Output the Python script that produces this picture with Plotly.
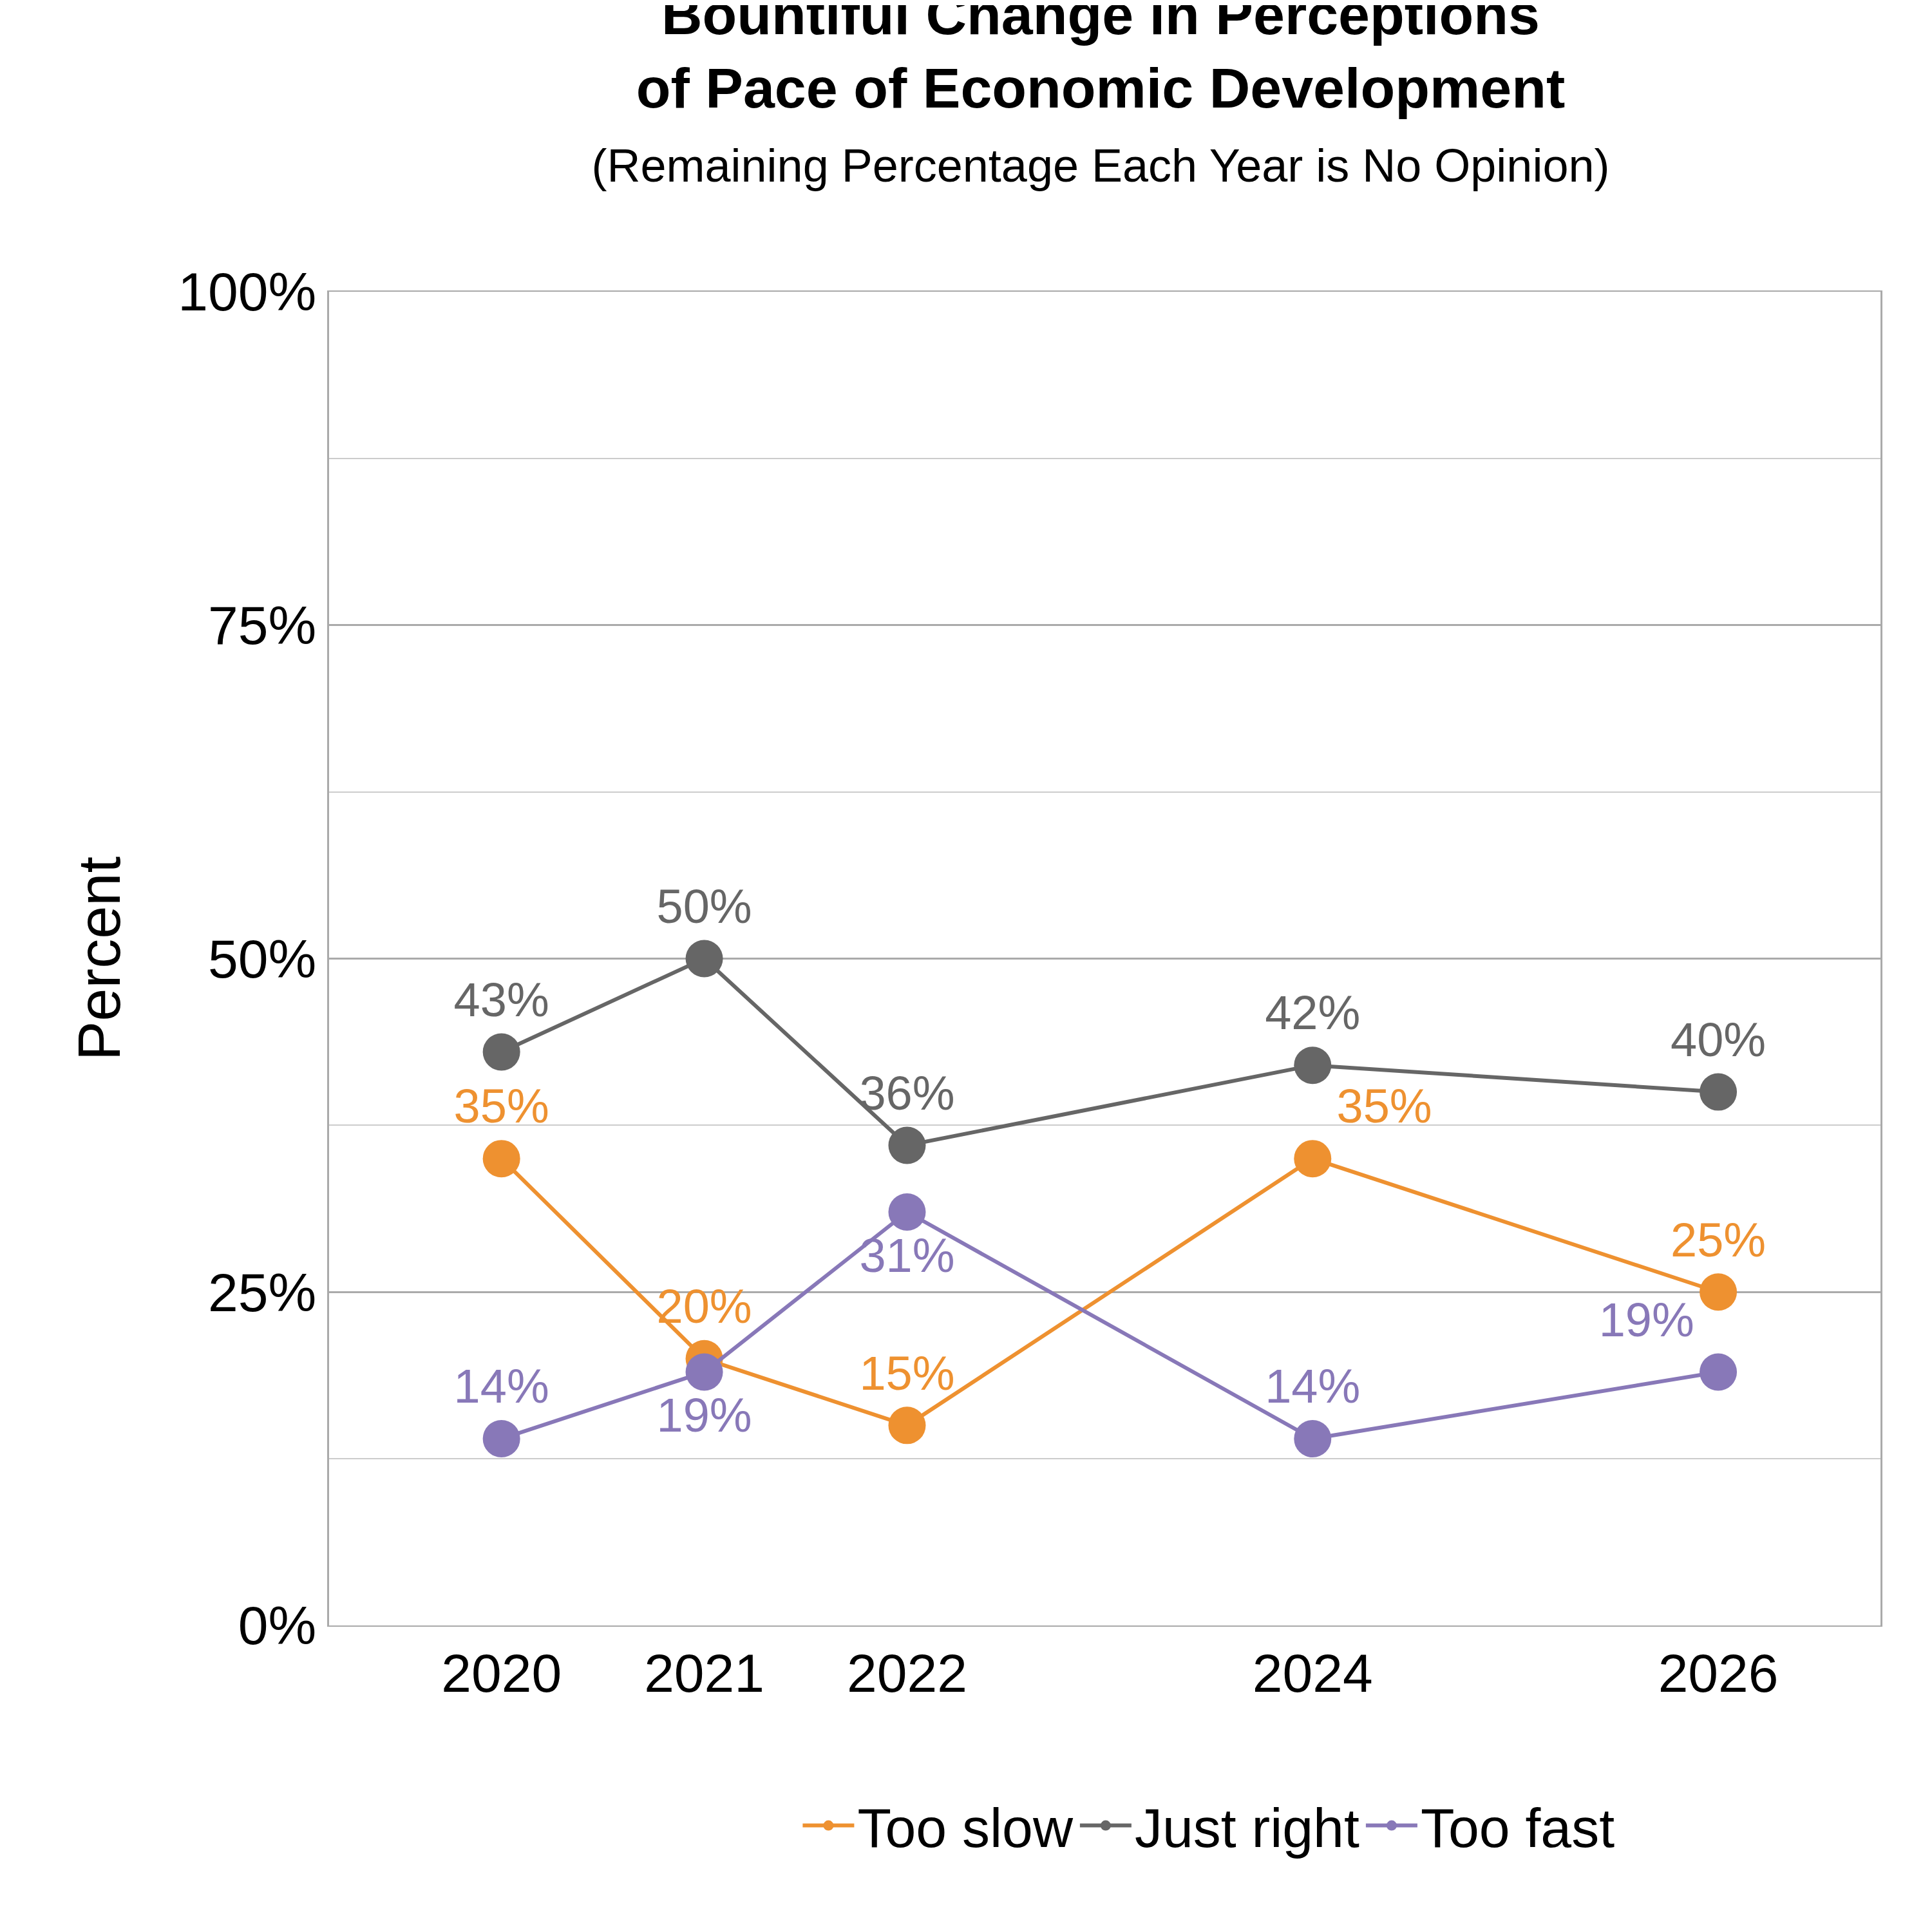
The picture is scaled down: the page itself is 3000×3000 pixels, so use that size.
import plotly.graph_objects as go

years = [2020, 2021, 2022, 2024, 2026]
too_slow = [35, 20, 15, 35, 25]
just_right = [43, 50, 36, 42, 40]
too_fast = [14, 19, 31, 14, 19]

series = [
    ("Too slow", too_slow, "#EE9130", ["top center", "top center", "top center", "top right", "top center"]),
    ("Just right", just_right, "#666666", ["top center"] * 5),
    ("Too fast", too_fast, "#8878B8", ["top center", "bottom center", "bottom center", "top center", "top left"]),
]

fig = go.Figure()
for name, vals, color, pos in series:
    fig.add_trace(go.Scatter(
        x=years, y=vals, name=name, mode="lines+markers+text",
        line=dict(color=color, width=6),
        marker=dict(size=58, color=color),
        text=[f"{v}%" for v in vals],
        textposition=pos,
        textfont=dict(color=color, size=74),
    ))

fig.update_layout(
    width=3000, height=3000,
    paper_bgcolor="white", plot_bgcolor="white",
    font=dict(family="Liberation Sans", color="black"),
    title=dict(
        text="<b>Bountiful Change in Perceptions<br>of Pace of Economic Development</b><br>"
             "<span style='font-size:72px'>(Remaining Percentage Each Year is No Opinion)</span>",
        x=0.567, xanchor="center", y=0.985, yanchor="top", font=dict(size=88),
    ),
    margin=dict(l=503, r=88, t=445, b=484),
    legend=dict(orientation="h", x=0.567, xanchor="center", y=-0.15, yanchor="middle",
                font=dict(size=86), itemwidth=80),
)
fig.update_xaxes(range=[2019.15, 2026.8], tickvals=years, ticktext=[str(y) for y in years],
                 tickfont=dict(size=84), showgrid=False, showline=True, linecolor="#aaaaaa",
                 linewidth=2, mirror=True, ticks="")
fig.update_yaxes(range=[0, 100], tickvals=[0, 25, 50, 75, 100],
                 ticktext=["0%", "25%", "50%", "75%", "100%"], tickfont=dict(size=84),
                 title=dict(text="Percent", font=dict(size=92), standoff=60),
                 showgrid=True, gridcolor="#aaaaaa", gridwidth=3,
                 minor=dict(tickvals=[12.5, 37.5, 62.5, 87.5], showgrid=True, gridcolor="#cccccc", gridwidth=2),
                 showline=True, linecolor="#aaaaaa", linewidth=3, mirror=True, ticks="", zeroline=False)

fig.write_html("out.html")
